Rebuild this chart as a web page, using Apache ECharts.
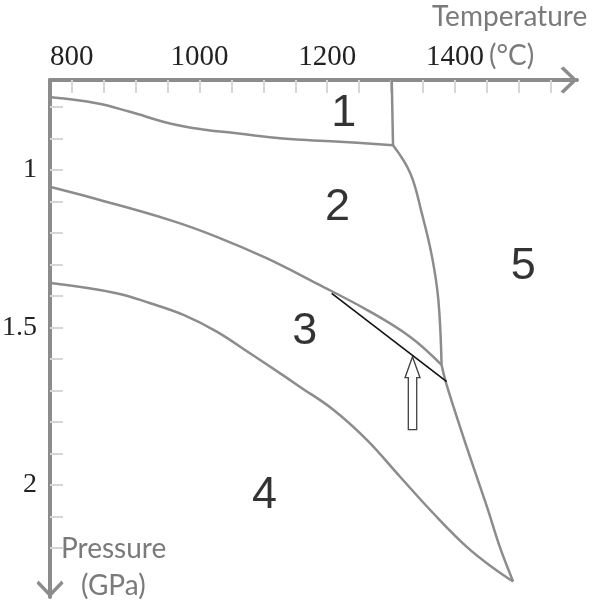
<!DOCTYPE html>
<html>
  <head>
    <meta charset="UTF-8">
    <title>Phase diagram</title>
    <script src="https://cdn.jsdelivr.net/npm/echarts@6/dist/echarts.min.js"></script>
    <style>
      html, body { margin: 0; padding: 0; background: #fff; }
      #main { width: 594px; height: 602px; }
    </style>
  </head>
  <body>
    <div id="main"></div>
    <script type="text/javascript">
      // axis ranges and ticks (temperature in °C, pressure in GPa)
      var tempRange = [766, 1591];
      var presRange = [0.714, 2.356];
      var tempTicks = [800, 850, 900, 950, 1000, 1050, 1100, 1150, 1200, 1250, 1300, 1350, 1400, 1450, 1500, 1550];
      var tempLabels = [800, 1000, 1200, 1400];
      var presTicks = [0.8, 0.9, 1.0, 1.1, 1.2, 1.3, 1.4, 1.5, 1.6, 1.7, 1.8, 1.9, 2.0, 2.1, 2.2];
      var presLabels = [1, 1.5, 2];

      // phase boundaries, [T, P]
      var line12 = [[767, 0.769], [839, 0.788], [891, 0.815], [954, 0.852], [1005, 0.871],
                    [1058, 0.883], [1110, 0.896], [1152, 0.903], [1220, 0.910], [1303, 0.921]];
      var line15 = [[1301, 0.714], [1303, 0.921]];
      var line25 = [[1303, 0.921], [1330, 1.010], [1348, 1.137], [1364, 1.275], [1374, 1.413], [1379, 1.619]];
      var line23 = [[767, 1.054], [844, 1.095], [954, 1.159], [1027, 1.212], [1105, 1.280],
                    [1183, 1.360], [1262, 1.444], [1330, 1.530], [1379, 1.619]];
      var line45 = [[1379, 1.619], [1387, 1.683], [1418, 1.878], [1450, 2.069], [1470, 2.196], [1491, 2.307]];
      var line34 = [[767, 1.359], [870, 1.391], [923, 1.423], [975, 1.460], [1027, 1.513], [1079, 1.582],
                    [1131, 1.652], [1157, 1.688], [1210, 1.762], [1262, 1.857], [1314, 1.974],
                    [1366, 2.090], [1418, 2.196], [1460, 2.264], [1491, 2.307]];
      var blackLine = [[1207, 1.392], [1387, 1.672]];

      // region numbers and the arrow
      var regions = [[1226, 0.821, '1'], [1216, 1.119, '2'], [1165, 1.514, '3'], [1102, 2.033, '4'], [1507, 1.307, '5']];
      var arrowAt = [[1333.5, 1.7086]];

      var chart = echarts.init(document.getElementById('main'));

      var grey = '#8c8c8c';
      var serif = '"Liberation Serif", "Times New Roman", serif';
      var sans = '"Liberation Sans", Arial, sans-serif';
      var chevron = 'path://M0,14 L13.5,0 L27,14 L25,17 L13.5,5 L2,17 Z';

      function boundary(name, data, smooth) {
        return {
          name: name,
          type: 'line',
          data: data,
          smooth: smooth,
          symbol: 'none',
          lineStyle: { color: grey, width: 2.5 },
          z: 3
        };
      }

      function axisTitle(text, left, top) {
        return {
          text: text, left: left, top: top, padding: 0,
          textStyle: { fontFamily: 'Lato', fontSize: 28, fontWeight: 'normal', color: '#7a7a7a' }
        };
      }

      chart.setOption({
        animation: false,
        title: [
          axisTitle('Temperature', 432, 3),
          axisTitle('(°C)', 489, 42),
          axisTitle('Pressure', 61, 535),
          axisTitle('(GPa)', 81, 572)
        ],
        grid: { left: 50, top: 80, right: 17, bottom: 5, containLabel: false, outerBoundsMode: 'none' },
        xAxis: {
          type: 'value',
          position: 'top',
          min: tempRange[0],
          max: tempRange[1],
          splitLine: { show: false },
          axisLine: {
            onZero: false,
            lineStyle: { color: grey, width: 4 },
            symbol: ['none', chevron],
            symbolSize: [27, 17],
            symbolOffset: [0, -8]
          },
          axisTick: {
            inside: true, length: 13, customValues: tempTicks,
            lineStyle: { color: '#d6d6d6', width: 2 }
          },
          axisLabel: {
            customValues: tempLabels, margin: 8,
            fontFamily: serif, fontSize: 29, color: '#222',
            formatter: function (v) { return String(v); }
          }
        },
        yAxis: {
          type: 'value',
          inverse: true,
          min: presRange[0],
          max: presRange[1],
          splitLine: { show: false },
          axisLine: {
            onZero: false,
            lineStyle: { color: grey, width: 4 },
            symbol: [chevron, 'none'],
            symbolSize: [27, 17],
            symbolOffset: [8, 0]
          },
          axisTick: {
            inside: true, length: 13, customValues: presTicks,
            lineStyle: { color: '#d6d6d6', width: 2 }
          },
          axisLabel: {
            customValues: presLabels, margin: 13,
            fontFamily: serif, fontSize: 28, color: '#222',
            formatter: function (v) { return String(v); }
          }
        },
        series: [
          boundary('1-2', line12, 0.4),
          boundary('1-5', line15, false),
          boundary('2-5', line25, 0.4),
          boundary('2-3', line23, 0.4),
          boundary('4-5', line45, 0.3),
          boundary('3-4', line34, 0.4),
          {
            name: 'black',
            type: 'line',
            data: blackLine,
            symbol: 'none',
            lineStyle: { color: '#111', width: 1.6 },
            z: 4
          },
          {
            name: 'arrow',
            type: 'scatter',
            data: arrowAt,
            symbol: 'path://M7.5,0 L15,21 L11.7,21 L11.7,73 L3.3,73 L3.3,21 L0,21 Z',
            symbolSize: 73,
            symbolKeepAspect: true,
            itemStyle: { color: '#fff', borderColor: '#111', borderWidth: 1.3 },
            z: 5
          },
          {
            name: 'regions',
            type: 'scatter',
            data: regions,
            symbolSize: 1,
            itemStyle: { color: 'rgba(0,0,0,0)' },
            label: {
              show: true, position: 'inside',
              fontFamily: sans, fontSize: 45, color: '#000',
              formatter: function (p) { return p.value[2]; }
            },
            z: 5
          }
        ]
      });
    </script>
  </body>
</html>
